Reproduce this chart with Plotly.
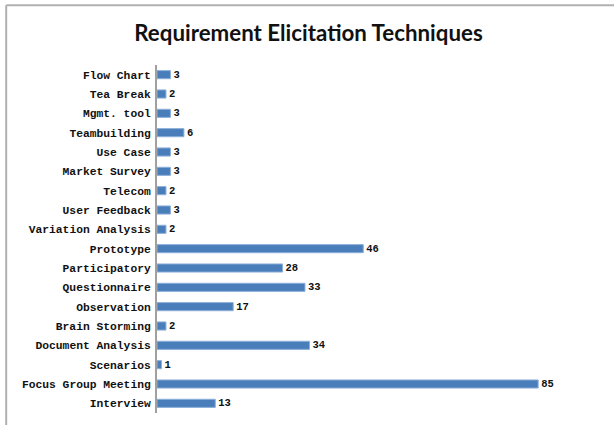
import plotly.graph_objects as go

categories = ["Interview", "Focus Group Meeting", "Scenarios", "Document Analysis",
              "Brain Storming", "Observation", "Questionnaire", "Participatory",
              "Prototype", "Variation Analysis", "User Feedback", "Telecom",
              "Market Survey", "Use Case", "Teambuilding", "Mgmt. tool",
              "Tea Break", "Flow Chart"]
values = [13, 85, 1, 34, 2, 17, 33, 28, 46, 2, 3, 2, 3, 3, 6, 3, 2, 3]
title_text = "Requirement Elicitation Techniques"

fig = go.Figure()
fig.add_trace(go.Bar(
    x=values, y=categories, orientation="h",
    marker=dict(color="#4A7EBB", line=dict(color="#8DB0DA", width=1)),
    width=0.42,
    text=[str(v) for v in values], textposition="outside",
    constraintext="none", textangle=0,
    textfont=dict(family="Liberation Mono", size=10.5, color="#111111", weight="bold"),
    cliponaxis=False,
))

fig.update_layout(
    width=614, height=425,
    margin=dict(l=157, r=31, t=65, b=12),
    paper_bgcolor="white", plot_bgcolor="white",
    showlegend=False,
    title=dict(text="<b>" + title_text + "</b>", x=308.5 / 614, xref="container", xanchor="center",
               y=1 - 33 / 425, yref="container", yanchor="middle",
               font=dict(family="Lato", size=22.3, color="#111111")),
    xaxis=dict(range=[0, 95], showgrid=False, zeroline=False, showticklabels=False,
               showline=False, ticks=""),
    yaxis=dict(type="category", categoryorder="array", categoryarray=categories,
               range=[-0.5, 17.5], showgrid=False, zeroline=False,
               showline=True, linecolor="#A0A0A0", linewidth=2, ticks="",
               ticklabelstandoff=2,
               tickfont=dict(family="Liberation Mono", size=11.3, color="#111111", weight="bold")),
    shapes=[
        dict(type="line", xref="paper", yref="paper", x0=-0.354, x1=1.08, y0=1.172, y1=1.172,
             line=dict(color="#B0B0B0", width=2)),
        dict(type="line", xref="paper", yref="paper", x0=-0.354, x1=-0.354, y0=1.172, y1=-0.04,
             line=dict(color="#B0B0B0", width=2)),
    ],
)

fig.write_html("out.html", config={"displayModeBar": False},
               post_script="document.body.style.margin='0';")
